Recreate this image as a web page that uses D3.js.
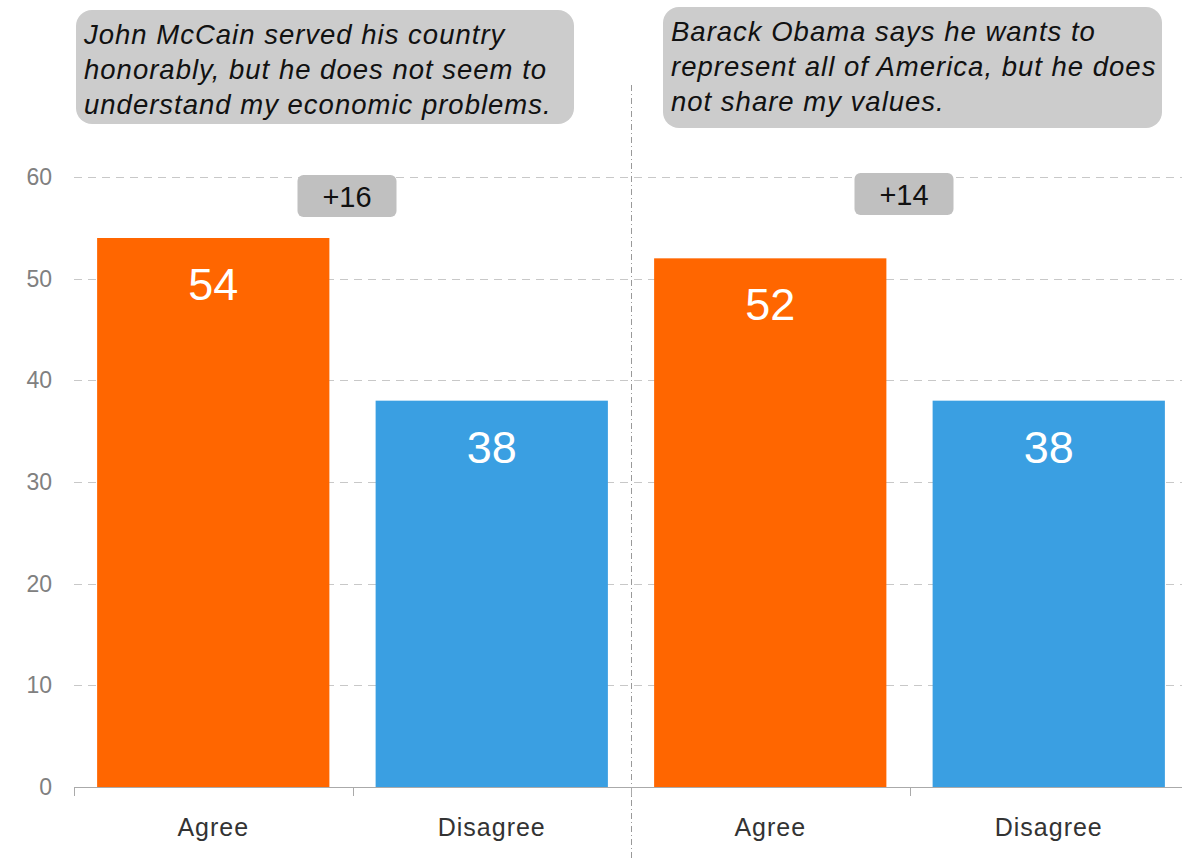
<!DOCTYPE html>
<html lang="en">
<head>
  <meta charset="UTF-8" />
  <title>McCain / Obama agree-disagree</title>
  <script src="https://cdn.jsdelivr.net/npm/d3@7"></script>
  <style>
    body { margin: 0; background: #fff; }
    text { font-family: "Liberation Sans", Arial, sans-serif; }
  </style>
</head>
<body>
  <div id="chart"></div>
  <script>
    // data
    var categories = ["Agree", "Disagree", "Agree", "Disagree"];
    var values = [54, 38, 52, 38];
    var statements = [
      ["John McCain served his country", "honorably, but he does not seem to", "understand my economic problems."],
      ["Barack Obama says he wants to", "represent all of America, but he does", "not share my values."]
    ];
    var margins = ["+16", "+14"];
    var yTicks = [0, 10, 20, 30, 40, 50, 60];

    var w = 1182, h = 861;
    var plotLeft = 74, plotRight = 1188, plotTop = 177, plotBottom = 787;

    var svg = d3.select("#chart").append("svg")
      .attr("width", w)
      .attr("height", h);

    var x = d3.scaleBand()
      .domain(d3.range(categories.length))
      .range([plotLeft, plotRight])
      .paddingInner(0.166)
      .paddingOuter(0.083);

    var y = d3.scaleLinear().domain([0, 60]).range([plotBottom, plotTop]);

    // gridlines
    svg.append("g").selectAll("line")
      .data(yTicks.slice(1))
      .enter().append("line")
      .attr("x1", plotLeft).attr("x2", plotRight)
      .attr("y1", function(d) { return Math.round(y(d)) + 0.5; })
      .attr("y2", function(d) { return Math.round(y(d)) + 0.5; })
      .attr("stroke", "#c8c8c8")
      .attr("stroke-dasharray", "8,6");

    // y tick labels
    svg.append("g").selectAll("text")
      .data(yTicks)
      .enter().append("text")
      .attr("x", 52)
      .attr("y", function(d) { return y(d); })
      .attr("dy", "0.35em")
      .attr("text-anchor", "end")
      .attr("font-size", "23px")
      .attr("fill", "#808080")
      .text(function(d) { return d; });

    // group divider
    var step = x.step();
    var divX = Math.round(plotLeft + step * 2) + 0.5;
    svg.append("line")
      .attr("x1", divX).attr("x2", divX)
      .attr("y1", 85).attr("y2", h)
      .attr("stroke", "#999")
      .attr("stroke-dasharray", "6,3,1,3");

    // bars
    var colors = ["#ff6600", "#3a9fe2", "#ff6600", "#3a9fe2"];
    svg.append("g").selectAll("rect")
      .data(values)
      .enter().append("rect")
      .attr("x", function(d, i) { return x(i); })
      .attr("y", function(d) { return y(d); })
      .attr("width", x.bandwidth())
      .attr("height", function(d) { return plotBottom - y(d); })
      .attr("fill", function(d, i) { return colors[i]; });

    // value labels
    svg.append("g").selectAll("text")
      .data(values)
      .enter().append("text")
      .attr("x", function(d, i) { return x(i) + x.bandwidth() / 2; })
      .attr("y", function(d) { return y(d) + 62; })
      .attr("text-anchor", "middle")
      .attr("font-size", "45px")
      .attr("fill", "#fff")
      .text(function(d) { return d; });

    // x axis line + ticks
    svg.append("line")
      .attr("x1", plotLeft).attr("x2", plotRight)
      .attr("y1", plotBottom + 0.5).attr("y2", plotBottom + 0.5)
      .attr("stroke", "#aaa");
    svg.append("g").selectAll("line")
      .data(d3.range(categories.length + 1))
      .enter().append("line")
      .attr("x1", function(d) { return Math.round(plotLeft + d * step) + 0.5; })
      .attr("x2", function(d) { return Math.round(plotLeft + d * step) + 0.5; })
      .attr("y1", plotBottom).attr("y2", plotBottom + 9)
      .attr("stroke", "#aaa");

    svg.append("g").selectAll("text")
      .data(categories)
      .enter().append("text")
      .attr("x", function(d, i) { return x(i) + x.bandwidth() / 2; })
      .attr("y", 836)
      .attr("text-anchor", "middle")
      .attr("font-size", "25px")
      .attr("letter-spacing", "1px")
      .attr("fill", "#333")
      .text(function(d) { return d; });

    // margin badges
    var badgeY = [175, 173];
    margins.forEach(function(m, g) {
      var cx = plotLeft + step * (2 * g + 1);
      var b = svg.append("g");
      b.append("rect")
        .attr("x", cx - 55).attr("y", badgeY[g])
        .attr("width", 99).attr("height", 42)
        .attr("rx", 6)
        .attr("fill", "#c0c0c0");
      b.append("text")
        .attr("x", cx - 5.5).attr("y", badgeY[g] + 32)
        .attr("text-anchor", "middle")
        .attr("font-size", "29px")
        .attr("fill", "#111")
        .text(m);
    });

    // statement callouts
    var boxes = [
      { x: 76, y: 10, w: 498, h: 114 },
      { x: 663, y: 7, w: 499, h: 121 }
    ];
    statements.forEach(function(lines, g) {
      var bx = boxes[g];
      var c = svg.append("g");
      c.append("rect")
        .attr("x", bx.x).attr("y", bx.y)
        .attr("width", bx.w).attr("height", bx.h)
        .attr("rx", 16)
        .attr("fill", "#cccccc");
      c.selectAll("text")
        .data(lines)
        .enter().append("text")
        .attr("x", bx.x + 8)
        .attr("y", function(d, i) { return bx.y + 34 + i * 35; })
        .attr("font-size", "27.5px")
        .attr("letter-spacing", "1px")
        .attr("font-style", "italic")
        .attr("fill", "#111")
        .text(function(d) { return d; });
    });
  </script>
</body>
</html>
